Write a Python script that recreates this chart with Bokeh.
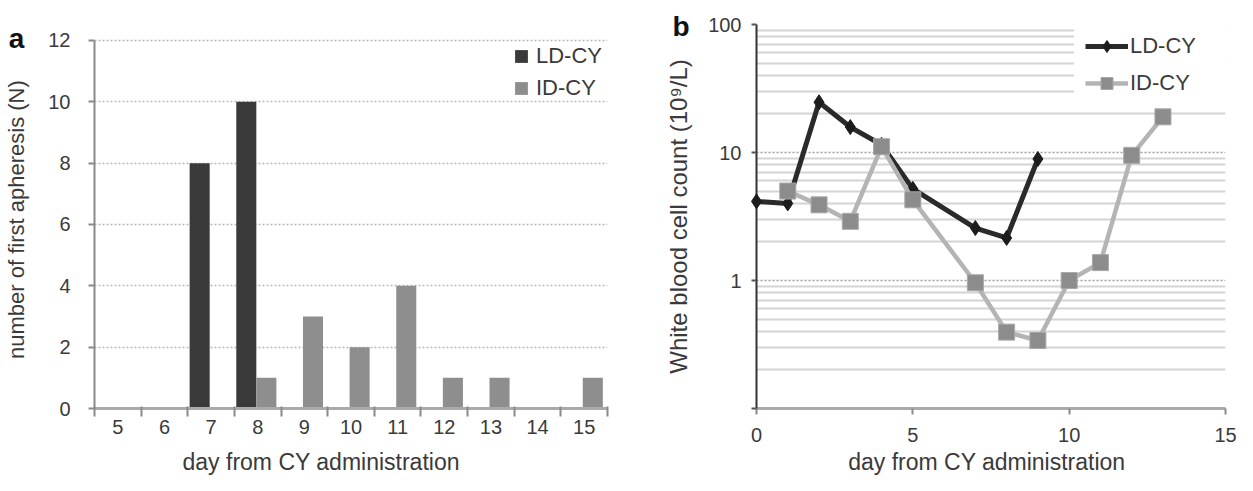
from bokeh.plotting import figure
from bokeh.models import (Range1d, FixedTicker, Legend, LegendItem,
                          ColumnDataSource, BoxAnnotation)
from bokeh.core.properties import value
from bokeh.transform import dodge
from bokeh.layouts import row
from bokeh.embed import file_html
from bokeh.resources import INLINE

FONT = "Liberation Sans"

# ---------------- Panel a data ----------------
days_a = [5, 6, 7, 8, 9, 10, 11, 12, 13, 14, 15]
ld_counts = [0, 0, 8, 10, 0, 0, 0, 0, 0, 0, 0]
id_counts = [0, 0, 0, 1, 3, 2, 4, 1, 1, 0, 1]
a_yticks = [0, 2, 4, 6, 8, 10, 12]
a_xlabel = "day from  CY administration"
a_ylabel = "number of first  apheresis (N)"

# ---------------- Panel b data ----------------
ld_days = [0, 1, 2, 3, 4, 5, 7, 8, 9]
ld_wbc = [4.15, 4.0, 24.7, 15.8, 11.5, 5.2, 2.57, 2.15, 8.9]
id_days = [1, 2, 3, 4, 5, 7, 8, 9, 10, 11, 12, 13]
id_wbc = [5.0, 3.9, 2.9, 11.1, 4.27, 0.96, 0.395, 0.34, 1.0, 1.38, 9.5, 19.0]
b_xticks = [0, 5, 10, 15]
b_yticks = [0.1, 1, 10, 100]
b_ylabels = {0.1: "", 1: "1", 10: "10", 100: "100"}
b_xlabel = "day from  CY administration"
b_ylabel = "White blood cell count (10\u2079/L)"

TXT = "#3a3a3a"
H = 475
TOP, BOTTOM = 24, 67

# ================= Panel a =================
src = ColumnDataSource(dict(day=days_a, ld=ld_counts, idc=id_counts))
pa = figure(width=628, height=H, x_range=Range1d(4.5, 15.5), y_range=Range1d(0, 12.52),
            output_backend="svg", toolbar_location=None, title=None,
            min_border_left=94, min_border_right=21, min_border_top=TOP, min_border_bottom=BOTTOM)
pa.outline_line_color = None

r_ld = pa.vbar(x=dodge("day", -0.245), top="ld", width=0.43, source=src,
               fill_color="#3a3a3a", line_color=None)
r_id = pa.vbar(x=dodge("day", 0.185), top="idc", width=0.43, source=src,
               fill_color="#8e8e8e", line_color=None)

xt = FixedTicker(ticks=days_a, minor_ticks=[d - 0.5 for d in days_a] + [days_a[-1] + 0.5])
pa.xaxis.ticker = xt
pa.xaxis.major_tick_line_color = None
pa.xaxis.major_tick_out = 8
pa.xaxis.major_tick_in = 0
pa.xaxis.minor_tick_line_color = "#8a8a8a"
pa.xaxis.minor_tick_line_width = 2
pa.xaxis.minor_tick_out = 8
pa.xaxis.minor_tick_in = 2
pa.xaxis.axis_line_color = "#aaaaaa"
pa.xaxis.axis_line_width = 3
pa.xaxis.major_label_standoff = 3

yt = FixedTicker(ticks=a_yticks, minor_ticks=[])
pa.yaxis.ticker = yt
pa.ygrid.ticker = yt
pa.yaxis.bounds = (a_yticks[0], a_yticks[-1])
pa.yaxis.axis_line_color = "#8a8a8a"
pa.yaxis.axis_line_width = 2
pa.yaxis.major_tick_out = 6
pa.yaxis.major_tick_in = 0
pa.yaxis.major_tick_line_color = "#8a8a8a"
pa.yaxis.major_tick_line_width = 2
pa.yaxis.minor_tick_line_color = None
pa.yaxis.major_label_standoff = 18
pa.yaxis.axis_label = a_ylabel
pa.yaxis.axis_label_standoff = 16

for ax in (pa.xaxis[0], pa.yaxis[0]):
    ax.major_label_text_font = FONT
    ax.major_label_text_font_size = "20px"
    ax.major_label_text_color = TXT
    ax.axis_label_text_font = FONT
    ax.axis_label_text_font_size = "22px"
    ax.axis_label_text_font_style = "normal"
    ax.axis_label_text_color = TXT

pa.xgrid.visible = False
pa.ygrid.grid_line_color = "#b8b8b8"
pa.ygrid.grid_line_dash = "2 2"
pa.ygrid.grid_line_width = 1.5

leg_a = Legend(items=[LegendItem(label="LD-CY", renderers=[r_ld]),
                      LegendItem(label="ID-CY", renderers=[r_id])],
               location=(419, 307), padding=0, margin=0, spacing=6,
               glyph_width=16, glyph_height=16, label_height=16, label_standoff=7,
               label_text_font=FONT, label_text_font_size="22px", label_text_color=TXT,
               background_fill_alpha=0, border_line_color=None)
pa.add_layout(leg_a, "center")

# x-axis title (placed left of centre, as in the original) and panel letter
pa.text(x=[9.43], y=[-1.76], text=[a_xlabel], text_font=value(FONT), text_font_size="23px",
        text_color=TXT, text_align="center", text_baseline="middle", level="overlay")
pa.text(x=[2.83], y=[12.05], text=["a"], text_font=value(FONT), text_font_size="28px",
        text_font_style="bold", text_color="#111111", text_align="center",
        text_baseline="alphabetic", level="overlay")

# ================= Panel b =================
pb = figure(width=609, height=H, x_range=Range1d(0, 15), y_range=Range1d(0.1, 100),
            y_axis_type="log", output_backend="svg", toolbar_location=None, title=None,
            min_border_left=128, min_border_right=12, min_border_top=TOP, min_border_bottom=BOTTOM)
pb.outline_line_color = None

ld_line = pb.line(ld_days, ld_wbc, line_color="#2a2a2a", line_width=5, level="overlay")
ld_pts = pb.scatter(ld_days, ld_wbc, marker="diamond", size=15, fill_color="#1c1c1c",
                    line_color="#1c1c1c", level="overlay")
id_line = pb.line(id_days, id_wbc, line_color="#b4b4b4", line_width=4.5, level="overlay")
id_pts = pb.scatter(id_days, id_wbc, marker="square", size=16, fill_color="#8c8c8c",
                    line_color="#a8a8a8", line_width=1, level="overlay")

xtb = FixedTicker(ticks=b_xticks, minor_ticks=[])
pb.xaxis.ticker = xtb
pb.xaxis.axis_line_color = "#aaaaaa"
pb.xaxis.axis_line_width = 3
pb.xaxis.major_tick_out = 6
pb.xaxis.major_tick_in = 0
pb.xaxis.major_tick_line_color = "#8a8a8a"
pb.xaxis.major_tick_line_width = 2
pb.xaxis.major_label_standoff = 13

ytb = FixedTicker(ticks=b_yticks,
                  minor_ticks=[k * d for d in b_yticks[:-1] for k in range(2, 10)])
pb.yaxis.ticker = ytb
pb.ygrid.ticker = ytb
pb.yaxis.major_label_overrides = b_ylabels
pb.yaxis.axis_line_color = "#333333"
pb.yaxis.axis_line_width = 2
pb.yaxis.major_tick_out = 5
pb.yaxis.major_tick_in = 0
pb.yaxis.major_tick_line_color = "#555555"
pb.yaxis.major_tick_line_width = 2
pb.yaxis.minor_tick_line_color = None
pb.yaxis.major_label_standoff = 10
pb.yaxis.axis_label = b_ylabel
pb.yaxis.axis_label_standoff = 13

for ax in (pb.xaxis[0], pb.yaxis[0]):
    ax.major_label_text_font = FONT
    ax.major_label_text_font_size = "20px"
    ax.major_label_text_color = TXT
    ax.axis_label_text_font = FONT
    ax.axis_label_text_font_size = "24px"
    ax.axis_label_text_font_style = "normal"
    ax.axis_label_text_color = TXT

pb.xgrid.visible = False
pb.ygrid.grid_line_color = "#a0a0a0"
pb.ygrid.grid_line_dash = "2 2"
pb.ygrid.grid_line_width = 1.5
pb.ygrid.minor_grid_line_color = "#d4d4d4"
pb.ygrid.minor_grid_line_width = 2

# white legend area (the legend box hides the grid behind it, as in the original)
pb.add_layout(BoxAnnotation(left=10.16, right=15, bottom=24, top=100,
                            fill_color="white", fill_alpha=1.0, line_color=None))

leg_b = Legend(items=[LegendItem(label="LD-CY", renderers=[ld_line, ld_pts]),
                      LegendItem(label="ID-CY", renderers=[id_line, id_pts])],
               location=(329, 310), padding=5, margin=0, spacing=7,
               glyph_width=43, glyph_height=30, label_height=30,
               label_standoff=2,
               label_text_font=FONT, label_text_font_size="22px", label_text_color=TXT,
               background_fill_alpha=0, border_line_color=None)
pb.add_layout(leg_b, "center")

pb.text(x=[7.47], y=[0.038], text=[b_xlabel], text_font=value(FONT), text_font_size="23px",
        text_color=TXT, text_align="center", text_baseline="middle", level="overlay")
pb.text(x=[-2.41], y=[97.0], text=["b"], text_font=value(FONT), text_font_size="28px",
        text_font_style="bold", text_color="#111111", text_align="center",
        text_baseline="alphabetic", level="overlay")

layout = row(pa, pb)
open("out.html", "w").write(file_html(layout, INLINE))
